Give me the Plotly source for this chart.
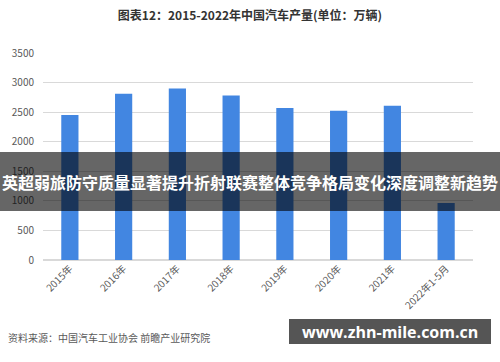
import plotly.graph_objects as go

categories = ["2015年", "2016年", "2017年", "2018年", "2019年", "2020年", "2021年", "2022年1-5月"]
production = [2450.3, 2811.9, 2901.5, 2780.9, 2572.1, 2522.5, 2608.2, 962.1]
y_ticks = [0, 500, 1000, 1500, 2000, 2500, 3000, 3500]

title_text = "图表12：2015-2022年中国汽车产量(单位：万辆)"
banner_text = "英超弱旅防守质量显著提升折射联赛整体竞争格局变化深度调整新趋势"
source_text = "资料来源：中国汽车工业协会 前瞻产业研究院"
site_text = "www.zhn-mile.com.cn"

W, H = 500, 362
L, R, T, B = 43, 27, 53, 102
pw, ph = W - L - R, H - T - B

def px(x):
    return (x - L) / pw

def py(y):
    return (H - B - y) / ph

font = "Noto Sans CJK SC"

fig = go.Figure(go.Bar(
    x=categories, y=production,
    marker=dict(color="#4286e1", line=dict(width=0)),
    width=0.32,
))

fig.update_layout(
    width=W, height=H,
    margin=dict(l=L, r=R, t=T, b=B),
    paper_bgcolor="white", plot_bgcolor="white",
    showlegend=False,
    font=dict(family=font, color="#595959"),
    title=dict(text="<b>" + title_text + "</b>", x=0.5, xanchor="center",
               y=1 - 16 / H, yanchor="middle",
               font=dict(size=12, color="#333333", family=font)),
    xaxis=dict(tickangle=-45, tickfont=dict(size=10, color="#595959"),
               showgrid=False, showline=False, ticks=""),
    yaxis=dict(range=[0, 3500], tickvals=y_ticks, showgrid=True, gridcolor="#d9d9d9",
               gridwidth=1, zeroline=True, zerolinecolor="#d9d9d9",
               tickfont=dict(size=10, color="#595959"), ticks="", ticklabelstandoff=8),
    shapes=[
        dict(type="rect", xref="paper", yref="paper", x0=px(0), x1=px(500),
             y0=py(211), y1=py(152), fillcolor="rgba(0,0,0,0.6)", line=dict(width=0),
             layer="above"),
        dict(type="rect", xref="paper", yref="paper", x0=px(289), x1=px(491),
             y0=py(344), y1=py(319), fillcolor="#555555", line=dict(width=0),
             layer="above"),
    ],
    annotations=[
        dict(text="<b>" + banner_text + "</b>", xref="paper", yref="paper",
             x=px(250), y=py(181.5), xanchor="center", yanchor="middle",
             showarrow=False, font=dict(size=16, color="white", family=font)),
        dict(text=source_text, xref="paper", yref="paper", x=px(6), y=py(337),
             xanchor="left", yanchor="middle", showarrow=False,
             font=dict(size=10, color="#595959", family=font)),
        dict(text="<b>" + site_text + "</b>", xref="paper", yref="paper",
             x=px(390), y=py(331.5), xanchor="center", yanchor="middle",
             showarrow=False, font=dict(size=16, color="white", family="Open Sans")),
    ],
)

fig.write_html("out.html")
